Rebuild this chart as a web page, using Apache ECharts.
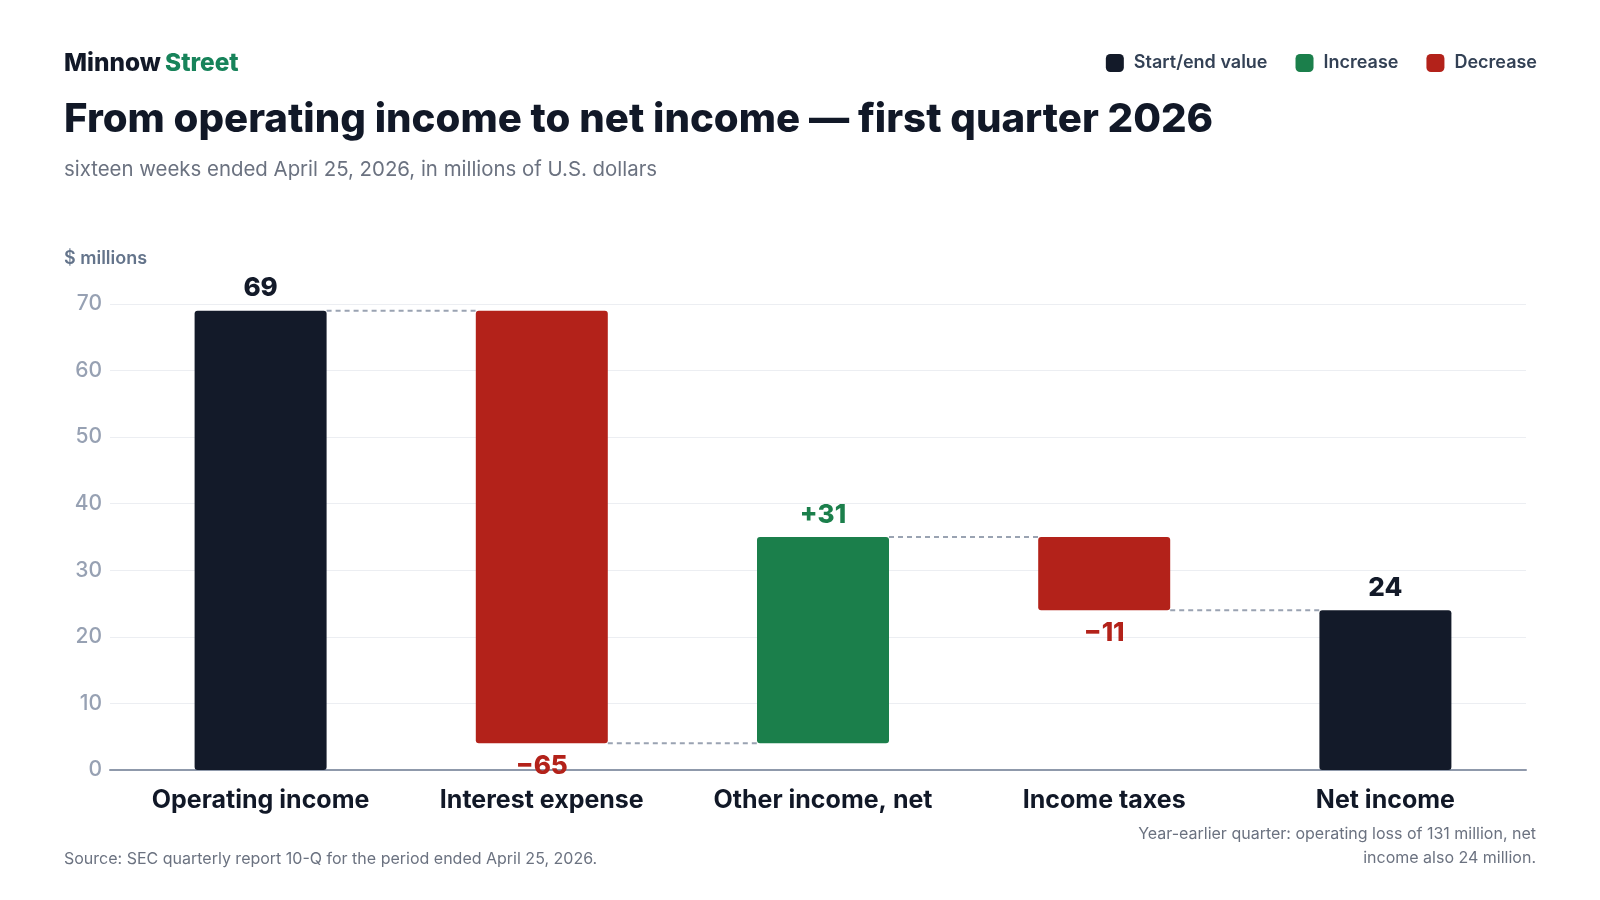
<!DOCTYPE html>
<html>
<head>
<meta charset="utf-8">
<script src="https://cdn.jsdelivr.net/npm/echarts@6/dist/echarts.min.js"></script>
<style>
  html, body { margin: 0; padding: 0; background: #fff; }
  #chart { width: 1600px; height: 900px; }
</style>
</head>
<body>
<div id="chart"></div>
<script>
// data
const categories = ['Operating income', 'Interest expense', 'Other income, net', 'Income taxes', 'Net income'];
const changes = [69, -65, 31, -11];   // start value, then the steps
const yTicks = [0, 10, 20, 30, 40, 50, 60, 70];

const DARK = '#131a29';
const GREEN = '#1b7f4b';
const RED = '#b3221a';
const FONT = 'Inter, "Noto Sans", sans-serif';

// running totals
const totals = [];
let run = 0;
changes.forEach(v => { run += v; totals.push(run); });
const endValue = run;

const baseData = [], startEnd = [], increase = [], decrease = [];
categories.forEach((c, i) => {
  if (i === 0) {
    baseData.push(0); startEnd.push(changes[0]); increase.push('-'); decrease.push('-');
  } else if (i === categories.length - 1) {
    baseData.push(0); startEnd.push(endValue); increase.push('-'); decrease.push('-');
  } else {
    const v = changes[i];
    const prev = totals[i - 1];
    baseData.push(v >= 0 ? prev : prev + v);
    startEnd.push('-');
    increase.push(v >= 0 ? v : '-');
    decrease.push(v < 0 ? -v : '-');
  }
});
// connector levels: after each bar, the running total
const connectors = totals.map((t, i) => [i, t]);

const BAR_W = 132;
const GRID_TOP = 304, GRID_BOTTOM = 130, GRID_RIGHT = 74;

const chart = echarts.init(document.getElementById('chart'));
chart.setOption({
  backgroundColor: '#fff',
  textStyle: { fontFamily: FONT },
  animation: false,
  title: [
    {
      text: '{a|Minnow} {b|Street}',
      left: 59, top: 47,
      textStyle: {
        rich: {
          a: { fontFamily: FONT, fontSize: 24.4, fontWeight: 800, color: '#111827' },
          b: { fontFamily: FONT, fontSize: 24.4, fontWeight: 800, color: '#17835a' }
        }
      }
    },
    {
      text: 'From operating income to net income — first quarter 2026',
      left: 59, top: 95,
      textStyle: { fontFamily: FONT, fontSize: 40.2, fontWeight: 800, color: '#111827' }
    },
    {
      text: 'sixteen weeks ended April 25, 2026, in millions of U.S. dollars',
      left: 59, top: 155,
      textStyle: { fontFamily: FONT, fontSize: 20.4, fontWeight: 400, color: '#6b7280' }
    },
    {
      text: '$ millions',
      left: 59, top: 245,
      textStyle: { fontFamily: FONT, fontSize: 18, fontWeight: 600, color: '#64748b' }
    }
  ],
  graphic: [
    {
      type: 'text', left: 64, top: 851,
      style: {
        text: 'Source: SEC quarterly report 10-Q for the period ended April 25, 2026.',
        font: '400 16px ' + FONT, fill: '#6b7280'
      }
    },
    {
      type: 'text', right: 64, top: 826,
      style: {
        text: 'Year-earlier quarter: operating loss of 131 million, net',
        font: '400 16px ' + FONT, fill: '#6b7280'
      }
    },
    {
      type: 'text', right: 64, top: 850,
      style: {
        text: 'income also 24 million.',
        font: '400 16px ' + FONT, fill: '#6b7280'
      }
    }
  ],
  legend: {
    data: ['Start/end value', 'Increase', 'Decrease'],
    right: 58, top: 49,
    icon: 'roundRect',
    itemWidth: 18, itemHeight: 18, itemGap: 28,
    textStyle: { fontFamily: FONT, fontSize: 18, fontWeight: 600, color: '#334155', padding: [0, 0, 0, 5] }
  },
  grid: [
    // grid lines, y labels and the zero axis line
    { left: 110, right: GRID_RIGHT, top: GRID_TOP, bottom: GRID_BOTTOM },
    // bars and category labels
    { left: 120, right: GRID_RIGHT, top: GRID_TOP, bottom: GRID_BOTTOM }
  ],
  xAxis: [
    {
      gridIndex: 0, type: 'category', data: categories,
      axisTick: { show: false },
      axisLabel: { show: false },
      axisLine: { lineStyle: { color: '#8f99ab', width: 2 } }
    },
    {
      gridIndex: 1, type: 'category', data: categories,
      axisTick: { show: false },
      axisLine: { show: false },
      axisLabel: { interval: 0, margin: 18, fontFamily: FONT, fontSize: 25, fontWeight: 700, color: '#111827' }
    }
  ],
  yAxis: [
    {
      gridIndex: 0, type: 'value',
      min: yTicks[0], max: yTicks[yTicks.length - 1], interval: 10,
      axisLine: { show: false },
      axisTick: { show: false },
      axisLabel: { margin: 8, fontFamily: FONT, fontSize: 21, fontWeight: 500, color: '#97a1b3' },
      splitLine: { lineStyle: { color: '#eceef2', width: 1 } }
    },
    {
      gridIndex: 1, type: 'value',
      min: yTicks[0], max: yTicks[yTicks.length - 1], interval: 10,
      show: false
    }
  ],
  series: [
    {
      name: 'base', type: 'bar', stack: 'total', barWidth: BAR_W,
      xAxisIndex: 1, yAxisIndex: 1,
      itemStyle: { color: 'transparent' },
      emphasis: { disabled: true },
      data: baseData
    },
    {
      name: 'Start/end value', type: 'bar', stack: 'total', barWidth: BAR_W,
      xAxisIndex: 1, yAxisIndex: 1,
      itemStyle: { color: DARK, borderRadius: 3 },
      label: {
        show: true, position: 'top', distance: 9,
        fontFamily: FONT, fontSize: 26, fontWeight: 800, color: DARK
      },
      data: startEnd
    },
    {
      name: 'Increase', type: 'bar', stack: 'total', barWidth: BAR_W,
      xAxisIndex: 1, yAxisIndex: 1,
      itemStyle: { color: GREEN, borderRadius: 3 },
      label: {
        show: true, position: 'top', distance: 9,
        fontFamily: FONT, fontSize: 26, fontWeight: 800, color: GREEN,
        formatter: p => '+' + p.value
      },
      data: increase
    },
    {
      name: 'Decrease', type: 'bar', stack: 'total', barWidth: BAR_W,
      xAxisIndex: 1, yAxisIndex: 1,
      itemStyle: { color: RED, borderRadius: 3 },
      label: {
        show: true, position: 'bottom', distance: 10,
        fontFamily: FONT, fontSize: 26, fontWeight: 800, color: RED,
        formatter: p => '\u2212' + p.value
      },
      data: decrease
    },
    {
      name: 'connectors', type: 'custom', silent: true, z: 1,
      xAxisIndex: 1, yAxisIndex: 1,
      data: connectors,
      renderItem: (params, api) => {
        const i = api.value(0);
        const level = api.value(1);
        const a = api.coord([i, level]);
        const b = api.coord([i + 1, level]);
        return {
          type: 'line',
          shape: { x1: a[0] + BAR_W / 2, y1: a[1], x2: b[0] - BAR_W / 2, y2: b[1] },
          style: { stroke: '#9aa3b2', lineWidth: 2, lineDash: [5, 4] }
        };
      }
    }
  ]
});
</script>
</body>
</html>
